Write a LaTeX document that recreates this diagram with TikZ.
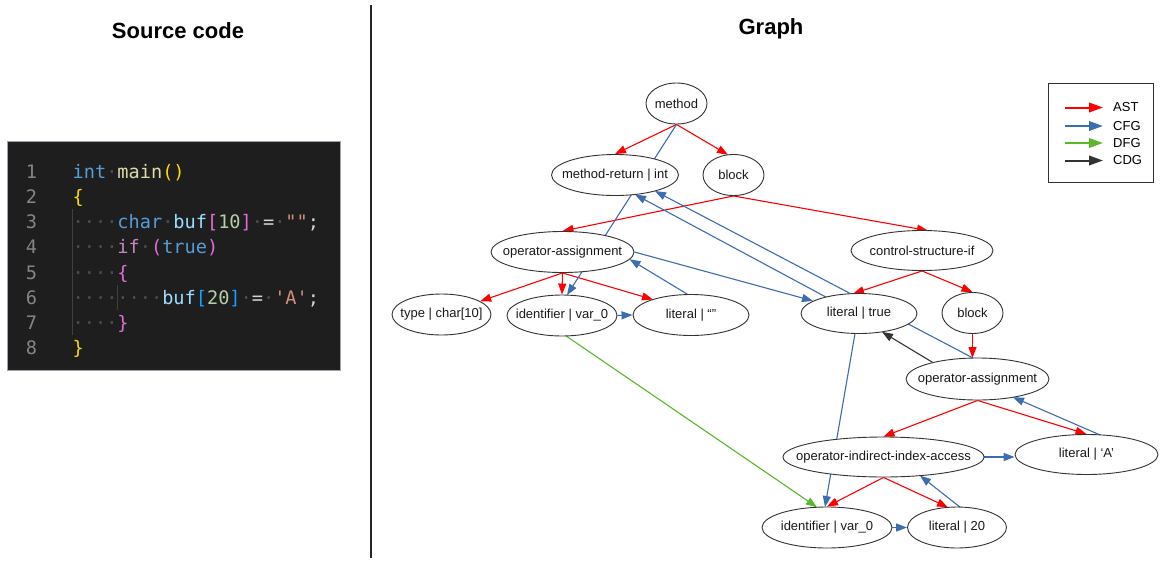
\documentclass[tikz,border=0pt]{standalone}
\usepackage{fontspec}
\usetikzlibrary{arrows.meta,shapes.geometric,calc,backgrounds}
\newfontfamily\lib{Liberation Sans}
\newfontfamily\codefont{DejaVu Sans Mono}[Ligatures=TeXOff]
\definecolor{astc}{HTML}{FF0000}
\definecolor{cfgc}{HTML}{3C6DB0}
\definecolor{dfgc}{HTML}{5BB82B}
\definecolor{cdgc}{HTML}{333333}
\definecolor{ncol}{HTML}{333333}
\definecolor{codebg}{HTML}{1E1E1E}
\definecolor{codeframe}{HTML}{9AA4AE}
\definecolor{lnum}{HTML}{858585}
\definecolor{kw}{HTML}{569CD6}
\definecolor{fn}{HTML}{DCDCAA}
\definecolor{brA}{HTML}{FFD700}
\definecolor{brB}{HTML}{DA70D6}
\definecolor{brC}{HTML}{179FFF}
\definecolor{var}{HTML}{9CDCFE}
\definecolor{num}{HTML}{B5CEA8}
\definecolor{opc}{HTML}{D4D4D4}
\definecolor{strc}{HTML}{CE9178}
\definecolor{ctl}{HTML}{C586C0}
\definecolor{ws}{HTML}{4E4E4E}
\definecolor{guide}{HTML}{404040}
\newcommand\tk[2]{\textcolor{#1}{#2}}
\tikzset{
  gn/.style={ellipse, draw=ncol, fill=white, line width=0.9pt, inner sep=0pt,
    minimum height=41pt, label={[lbl]center:{#1}}},
  lbl/.style={inner sep=0pt, text=black!90, font=\lib\fontsize{13}{15}\selectfont},
  ast/.style={draw=astc, line width=1.1pt, -{Triangle[length=11pt,width=8pt]}},
  cfg/.style={draw=cfgc, line width=1.1pt, -{Triangle[length=11pt,width=8pt]}},
  dfg/.style={draw=dfgc, line width=1.1pt, -{Triangle[length=11pt,width=8pt]}},
  cdg/.style={draw=cdgc, line width=1.1pt, -{Triangle[length=11pt,width=8pt]}},
  legarrow/.style={line width=2pt, -{Triangle[length=14pt,width=9.5pt]}},
  legtext/.style={anchor=west, inner sep=0pt, font=\lib\fontsize{13}{15}\selectfont},
  codeline/.style={anchor=base west, inner sep=0pt, font=\codefont\fontsize{18.6}{22}\selectfont},
  numline/.style={anchor=base, inner sep=0pt, text=lnum, font=\codefont\fontsize{18.6}{22}\selectfont},
  title/.style={inner sep=0pt, font=\lib\bfseries\fontsize{22}{26}\selectfont}
}
\begin{document}
\begin{tikzpicture}[x=1pt,y=-1pt]
\useasboundingbox (0,0) rectangle (1160,563);

% titles and divider
\node[title] (t1) at (178,31) {Source code};
\node[title] (t2) at (771,29) {Graph};
\draw[line width=2pt, black!85] (371,5) -- (371,558);

% code panel
\node[draw=codeframe, fill=codebg, line width=1pt, inner sep=0pt, anchor=north west,
  minimum width=333pt, minimum height=229pt] (cb) at (6.5,141) {};
\draw[guide, line width=1pt] (72.5,209) -- (72.5,335);
\draw[guide, line width=1pt] (117.3,285) -- (117.3,310);
\foreach \i in {1,...,8} {
  \node[numline] (n\i) at (31.5,{178.3+25.2*(\i-1)}) {\i};
}
\node[codeline] (c1) at (72.5,178.3) {\tk{kw}{int}\tk{ws}{·}\tk{fn}{main}\tk{brA}{()}};
\node[codeline] (c2) at (72.5,203.5) {\tk{brA}{\{}};
\node[codeline] (c3) at (72.5,228.7) {\tk{ws}{····}\tk{kw}{char}\tk{ws}{·}\tk{var}{buf}\tk{brB}{[}\tk{num}{10}\tk{brB}{]}\tk{ws}{·}\tk{opc}{=}\tk{ws}{·}\tk{strc}{""}\tk{opc}{;}};
\node[codeline] (c4) at (72.5,253.9) {\tk{ws}{····}\tk{ctl}{if}\tk{ws}{·}\tk{brB}{(}\tk{kw}{true}\tk{brB}{)}};
\node[codeline] (c5) at (72.5,279.1) {\tk{ws}{····}\tk{brB}{\{}};
\node[codeline] (c6) at (72.5,304.3) {\tk{ws}{········}\tk{var}{buf}\tk{brC}{[}\tk{num}{20}\tk{brC}{]}\tk{ws}{·}\tk{opc}{=}\tk{ws}{·}\tk{strc}{'A'}\tk{opc}{;}};
\node[codeline] (c7) at (72.5,329.5) {\tk{ws}{····}\tk{brB}{\}}};
\node[codeline] (c8) at (72.5,354.7) {\tk{brA}{\}}};

% graph nodes
\node[gn={method}, minimum width=61pt] (M) at (676.5,103.5) {};
\node[gn={method-return | int}, minimum width=127pt] (mr) at (615,175) {};
\node[gn={block}, minimum width=61pt] (blk) at (733.5,175) {};
\node[gn={operator-assignment}, minimum width=143pt] (op1) at (562.5,252) {};
\node[gn={control-structure-if}, minimum width=142pt, minimum height=40pt] (csif) at (922,250.5) {};
\node[gn={type | char[10]}, minimum width=99pt] (typ) at (441.5,314.5) {};
\node[gn={identifier | var\_0}, minimum width=110pt] (id1) at (562,315.5) {};
\node[gn={literal | “”}, minimum width=116pt] (litE) at (691,315) {};
\node[gn={literal | true}, minimum width=116pt, minimum height=40pt] (ltrue) at (859,313.5) {};
\node[gn={block}, minimum width=61pt] (blk2) at (972.5,313) {};
\node[gn={operator-assignment}, minimum width=143pt, minimum height=42pt] (op2) at (977.5,379) {};
\node[gn={operator-indirect-index-access}, minimum width=201pt, minimum height=40pt] (opi) at (883.5,457) {};
\node[gn={literal | ‘A’}, minimum width=143pt, minimum height=40pt] (litA) at (1086.5,454.5) {};
\node[gn={identifier | var\_0}, minimum width=130pt] (id2) at (827,527.5) {};
\node[gn={literal | 20}, minimum width=99pt] (lit20) at (957,527.5) {};

% edges
\begin{scope}[on background layer]
\fill[white] (0,0) rectangle (1160,563);
% AST
\draw[ast] (M.south) -- (mr.north);
\draw[ast] (M.south) -- ($(blk)+(-5.5,-20.2)$);
\draw[ast] (blk.south) -- (op1.north);
\draw[ast] (blk.south) -- ($(csif)+(6,-19.9)$);
\draw[ast] (op1.south) -- (typ);
\draw[ast] (op1.south) -- (id1.north);
\draw[ast] (op1.south) -- ($(litE)+(-38,-15.5)$);
\draw[ast] (csif.south) -- ($(ltrue)+(-6,-19.8)$);
\draw[ast] (csif.south) -- (blk2.north);
\draw[ast] (blk2.south) -- ($(op2)+(-5,-21)$);
\draw[ast] (op2.south) -- (opi.north);
\draw[ast] (op2.south) -- (litA.north);
\draw[ast] (opi.south) -- (id2.north);
\draw[ast] (opi.south) -- ($(lit20)+(-9,-20.2)$);
% CFG
\draw[cfg] (M.south) -- ($(id1)+(5,-20.4)$);
\draw[cfg] (id1.east) -- (litE.west);
\draw[cfg] ($(litE)+(-3,-20.4)$) -- ($(op1)+(67,7.2)$);
\draw[cfg] (op1.east) -- (ltrue);
\draw[cfg] ($(ltrue)+(-33,-16.4)$) -- ($(mr)+(20,19.5)$);
\draw[cfg] ($(op2)+(-4.5,-21)$) -- ($(mr)+(40,16)$);
\draw[cfg] ($(ltrue)+(-4,20)$) -- ($(id2)+(-2,-20.5)$);
\draw[cfg] (id2.east) -- (lit20.west);
\draw[cfg] ($(lit20)+(3,-20.4)$) -- ($(opi)+(36.5,18.6)$);
\draw[cfg] (opi.east) -- (opi.east -| litA.west);
\draw[cfg] ($(litA)+(13.5,-19.6)$) -- ($(op2)+(35.5,18.2)$);
% CDG
\draw[cdg] ($(op2)+(-44.5,-16.4)$) -- ($(ltrue)+(23,18.4)$);
% DFG
\draw[dfg] ($(id1)+(4,20.4)$) -- ($(id2)+(-10,-20.3)$);
\end{scope}

% legend
\node[draw=ncol, line width=0.9pt, inner sep=0pt, anchor=north west,
  minimum width=105pt, minimum height=99pt] (leg) at (1048,83) {};
\coordinate (la1) at (1065,107.5); \coordinate (lb1) at (1103,107.5);
\coordinate (la2) at (1065,126);   \coordinate (lb2) at (1103,126);
\coordinate (la3) at (1065,143);   \coordinate (lb3) at (1103,143);
\coordinate (la4) at (1065,160.5); \coordinate (lb4) at (1103,160.5);
\draw[legarrow, astc] (la1) -- (lb1);
\draw[legarrow, cfgc] (la2) -- (lb2);
\draw[legarrow, dfgc] (la3) -- (lb3);
\draw[legarrow, cdgc] (la4) -- (lb4);
\node[legtext] (lt1) at (1113,107.5) {AST};
\node[legtext] (lt2) at (1113,126) {CFG};
\node[legtext] (lt3) at (1113,143) {DFG};
\node[legtext] (lt4) at (1113,160.5) {CDG};
\end{tikzpicture}
\end{document}
